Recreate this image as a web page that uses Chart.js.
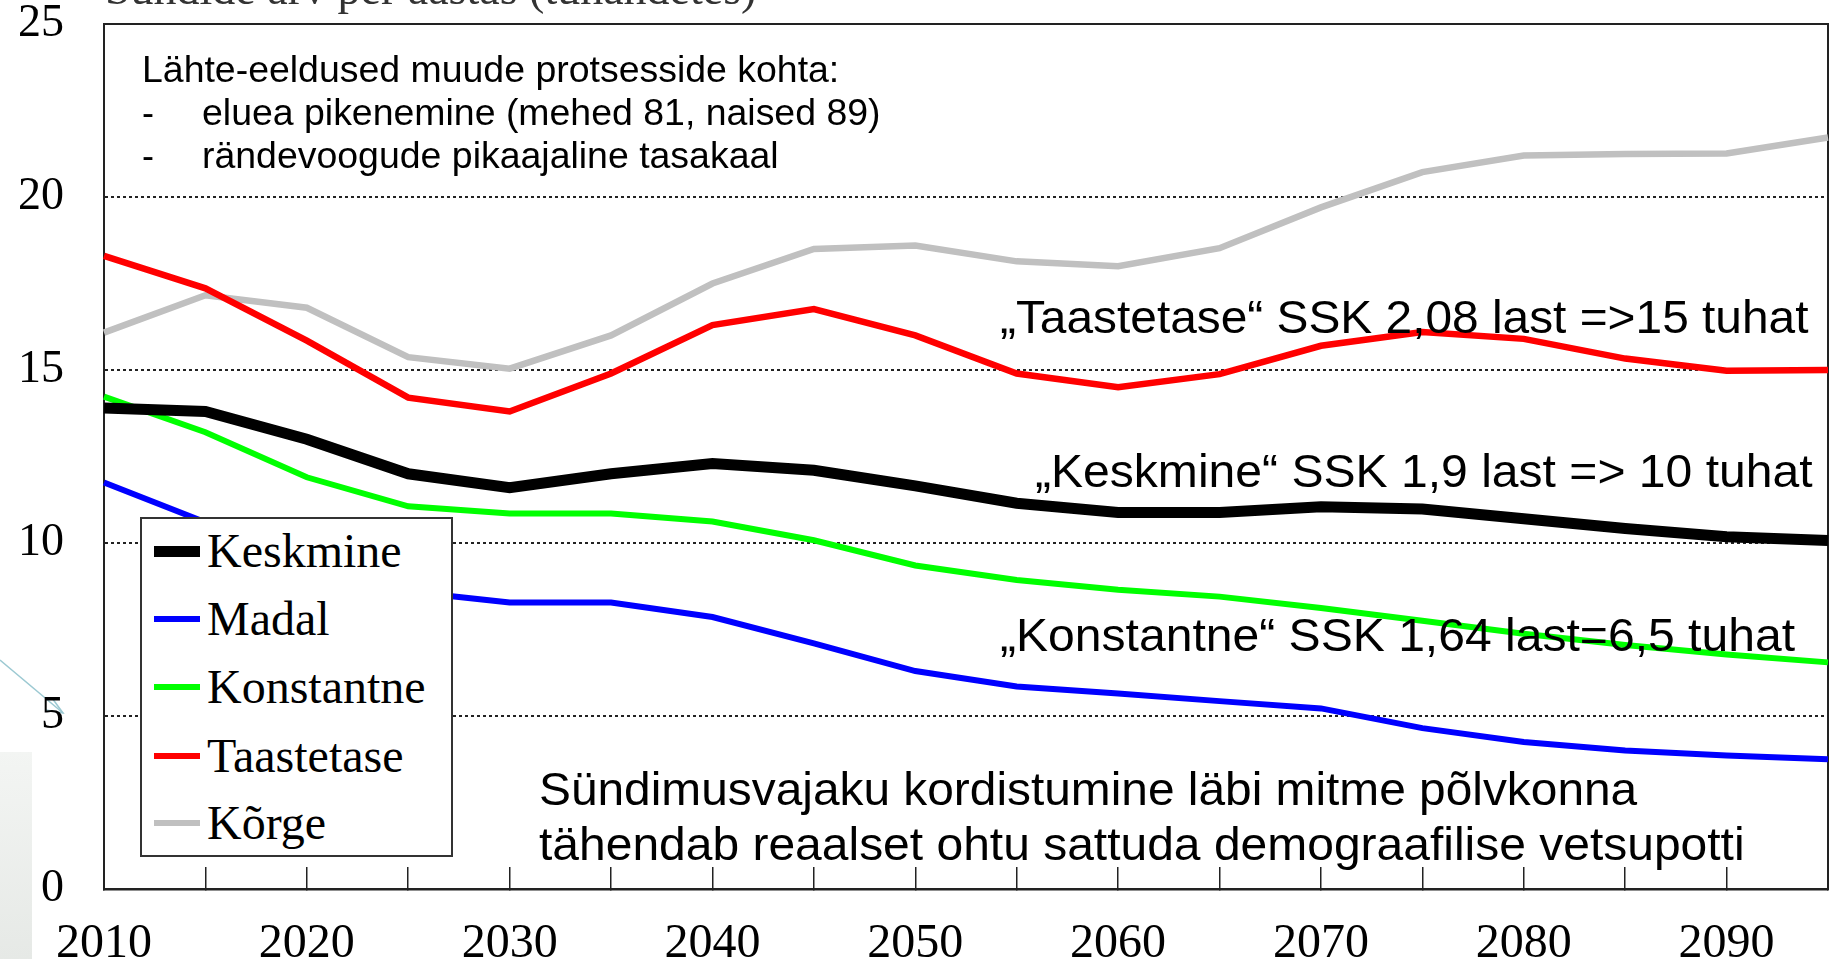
<!DOCTYPE html>
<html>
<head>
<meta charset="utf-8">
<title>Sündide arv</title>
<script src="https://cdn.jsdelivr.net/npm/chart.js@4.4.0/dist/chart.umd.min.js"></script>
<style>
    html, body { margin: 0; padding: 0; background: #fff; overflow: hidden; }
    #wrap { position: relative; width: 1830px; height: 959px; overflow: hidden; }
    #chart { position: absolute; left: 0; top: 0; }
    .sans { position: absolute; font-family: "Liberation Sans", Arial, sans-serif; color: #000; white-space: nowrap; line-height: 1; transform-origin: 0 0; }
    .serif { position: absolute; font-family: "Liberation Serif", "Times New Roman", serif; color: #000; white-space: nowrap; line-height: 1; }
    #legend { position: absolute; left: 140px; top: 517px; width: 309px; height: 336px; border: 2px solid #333; background: #fff; }
    #legend .row { position: absolute; left: 12px; height: 60px; }
    #legend .swatch { position: absolute; left: 0; width: 46px; }
    #legend .lbl { position: absolute; left: 53px; top: 0; font-family: "Liberation Serif", "Times New Roman", serif; font-size: 48px; line-height: 60px; white-space: nowrap; }
    #shade { position: absolute; left: 0; top: 752px; width: 32px; height: 207px; background: linear-gradient(#f3f5f3, #e6e9e6); }
</style>
</head>
<body>
<div id="wrap">
    <div id="shade"></div>
    <svg width="80" height="740" style="position:absolute;left:0;top:0">
        <line x1="0" y1="660" x2="63" y2="713" stroke="#9cc9d2" stroke-width="1.5"/>
        <polyline points="52,698 63,713 46,710" fill="none" stroke="#9cc9d2" stroke-width="1.5"/>
    </svg>
    <canvas id="chart" width="1830" height="959"></canvas>

    <div class="serif" style="left:105px; top:-34px; font-size:46px; color:#333;">Sündide arv per aastas (tuhandetes)</div>

    <div class="sans" style="left:142px; top:52px; font-size:36px; transform:scaleX(1.04);">Lähte-eeldused muude protsesside kohta:</div>
    <div class="sans" style="left:142px; top:95px; font-size:36px;">-</div>
    <div class="sans" style="left:202px; top:95px; font-size:36px; transform:scaleX(1.04);">eluea pikenemine (mehed 81, naised 89)</div>
    <div class="sans" style="left:142px; top:138px; font-size:36px;">-</div>
    <div class="sans" style="left:202px; top:138px; font-size:36px; transform:scaleX(1.04);">rändevoogude pikaajaline tasakaal</div>

    <div class="sans" style="left:1000px; top:294px; font-size:46px; transform:scaleX(1.04);">„Taastetase“ SSK 2,08 last =&gt;15 tuhat</div>
    <div class="sans" style="left:1035px; top:448px; font-size:46px; transform:scaleX(1.045);">„Keskmine“ SSK 1,9 last =&gt; 10 tuhat</div>
    <div class="sans" style="left:1000px; top:612px; font-size:46px; transform:scaleX(1.045);">„Konstantne“ SSK 1,64 last=6,5 tuhat</div>
    <div class="sans" style="left:539px; top:766px; font-size:46px; transform:scaleX(1.04);">Sündimusvajaku kordistumine läbi mitme põlvkonna</div>
    <div class="sans" style="left:539px; top:821px; font-size:46px; transform:scaleX(1.043);">tähendab reaalset ohtu sattuda demograafilise vetsupotti</div>

    <div id="legend"></div>
</div>

<script>
// aastad (5 aasta sammuga)
const years = [2010, 2015, 2020, 2025, 2030, 2035, 2040, 2045, 2050, 2055,
               2060, 2065, 2070, 2075, 2080, 2085, 2090, 2095];

// sündide arv, tuhandetes
const keskmine   = [13.9, 13.8, 13.0, 12.0, 11.6, 12.0, 12.3, 12.1, 11.65, 11.15,
                    10.88, 10.88, 11.05, 10.98, 10.7, 10.42, 10.18, 10.07];
const madal      = [11.75, 10.6, 9.5, 8.6, 8.28, 8.28, 7.86, 7.1, 6.3, 5.85,
                    5.65, 5.43, 5.22, 4.65, 4.25, 4.0, 3.86, 3.75];
const konstantne = [14.23, 13.2, 11.9, 11.06, 10.85, 10.85, 10.62, 10.08, 9.35, 8.93,
                    8.65, 8.45, 8.12, 7.75, 7.38, 7.05, 6.78, 6.55];
const taastetase = [18.3, 17.36, 15.85, 14.2, 13.8, 14.9, 16.3, 16.76, 16.0, 14.9,
                    14.5, 14.88, 15.7, 16.1, 15.9, 15.33, 14.98, 15.0];
const korge      = [16.08, 17.16, 16.8, 15.37, 15.04, 16.0, 17.5, 18.5, 18.6, 18.14,
                    18.0, 18.52, 19.7, 20.72, 21.2, 21.24, 21.26, 21.72];

const yTicks = [0, 5, 10, 15, 20, 25];

// raam ümber joonise
const frame = {
    id: 'frame',
    beforeDatasetsDraw(chart) {
        const { ctx, chartArea: a } = chart;
        ctx.save();
        ctx.strokeStyle = '#222';
        ctx.lineWidth = 2;
        ctx.strokeRect(a.left, a.top, a.right - a.left, a.bottom - a.top);
        ctx.restore();
    }
};

function line(label, data, color, width) {
    return {
        label: label,
        data: data,
        borderColor: color,
        backgroundColor: color,
        borderWidth: width,
        pointRadius: 0,
        fill: false,
        tension: 0
    };
}

const ctx = document.getElementById('chart').getContext('2d');
const chart = new Chart(ctx, {
    type: 'line',
    data: {
        labels: years,
        datasets: [
            line('Keskmine', keskmine, '#000000', 11),
            line('Madal', madal, '#0000ff', 6),
            line('Konstantne', konstantne, '#00ff00', 6),
            line('Taastetase', taastetase, '#ff0000', 6.5),
            line('Kõrge', korge, '#c0c0c0', 6.5)
        ]
    },
    options: {
        responsive: false,
        animation: false,
        devicePixelRatio: 1,
        layout: { padding: { top: 24, right: 2, left: 0, bottom: 0 } },
        plugins: {
            legend: { display: false },
            tooltip: { enabled: false }
        },
        scales: {
            x: {
                type: 'category',
                offset: false,
                afterFit(scale) {
                    scale.height = 70;
                    scale.paddingLeft = 0;
                    scale.paddingRight = 0;
                },
                grid: {
                    drawOnChartArea: false,
                    drawTicks: true,
                    tickLength: -22,
                    color: '#222',
                    lineWidth: 1.5
                },
                border: { display: true, color: '#222', width: 2.5 },
                ticks: {
                    autoSkip: false,
                    maxRotation: 0,
                    padding: 49,
                    color: '#000',
                    font: { family: '"Liberation Serif", "Times New Roman", serif', size: 48 },
                    callback: function (value, index) {
                        return years[index] % 10 === 0 ? String(years[index]) : '';
                    }
                }
            },
            y: {
                min: 0,
                max: 25,
                afterFit(scale) {
                    scale.width = 104;
                    scale.paddingTop = 0;
                    scale.paddingBottom = 0;
                },
                afterBuildTicks(scale) { scale.ticks = yTicks.map(v => ({ value: v })); },
                grid: {
                    drawTicks: false,
                    color: (c) => (c.tick && (c.tick.value === 0 || c.tick.value === 25)) ? 'rgba(0,0,0,0)' : '#222',
                    lineWidth: 2
                },
                border: { display: true, color: '#222', width: 2, dash: [3, 3] },
                ticks: {
                    padding: 40,
                    color: '#000',
                    font: { family: '"Liberation Serif", "Times New Roman", serif', size: 46 }
                }
            }
        }
    },
    plugins: [frame]
});

// legend, tehtud andmestikest
const legendBox = document.getElementById('legend');
const rowTops = [2, 70, 138, 207, 274];
chart.data.datasets.forEach((ds, i) => {
    const row = document.createElement('div');
    row.className = 'row';
    row.style.top = rowTops[i] + 'px';
    const sw = document.createElement('div');
    sw.className = 'swatch';
    const h = ds.borderWidth >= 10 ? 11 : 6;
    sw.style.height = h + 'px';
    sw.style.top = (30 - h / 2) + 'px';
    sw.style.background = ds.borderColor;
    const lbl = document.createElement('div');
    lbl.className = 'lbl';
    lbl.textContent = ds.label;
    row.appendChild(sw);
    row.appendChild(lbl);
    legendBox.appendChild(row);
});
</script>
</body>
</html>
